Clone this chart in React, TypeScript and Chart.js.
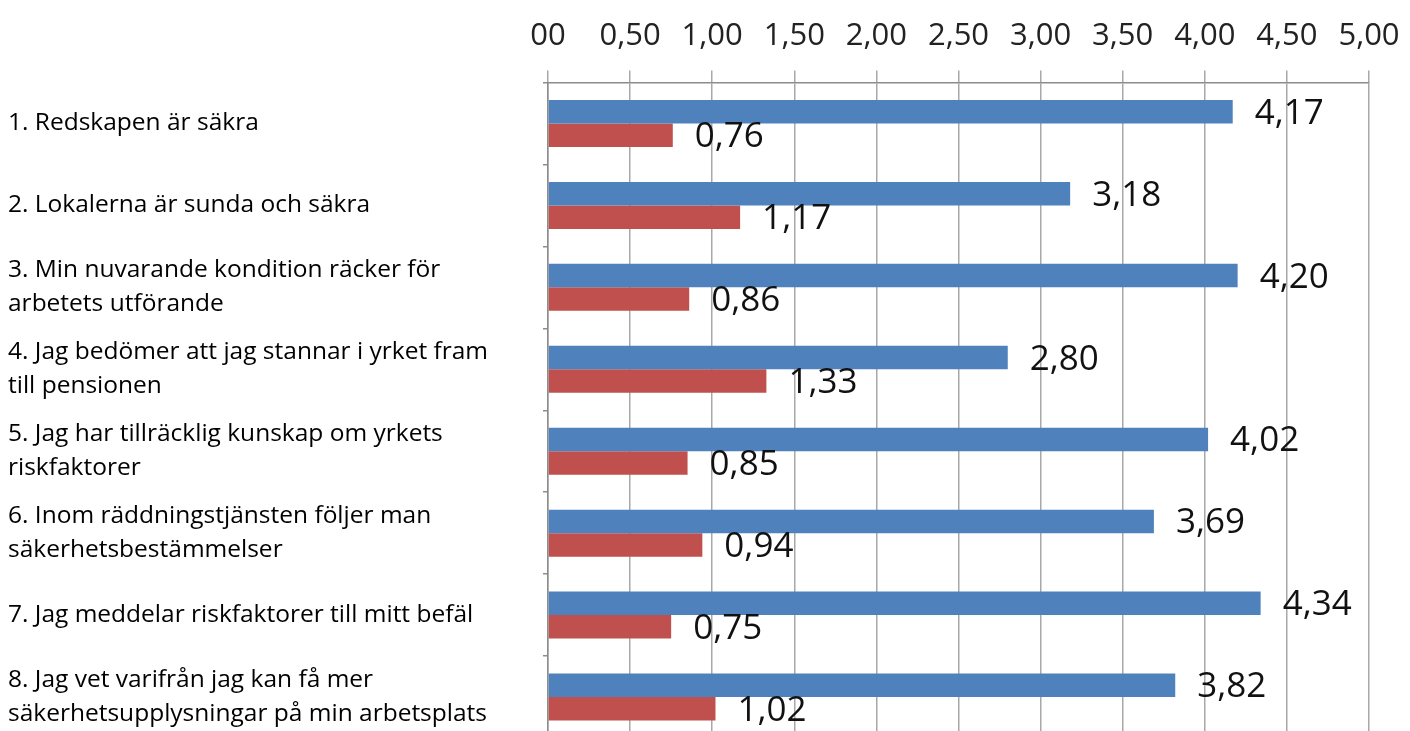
import React, { useEffect, useRef } from "react";
import { Chart, registerables } from "chart.js";

Chart.register(...registerables);

const categories: string[][] = [
  ["1. Redskapen är säkra"],
  ["2. Lokalerna är sunda och säkra"],
  ["3. Min nuvarande kondition räcker för", "arbetets utförande"],
  ["4. Jag bedömer att jag stannar i yrket fram", "till pensionen"],
  ["5. Jag har tillräcklig kunskap om yrkets", "riskfaktorer"],
  ["6. Inom räddningstjänsten följer man", "säkerhetsbestämmelser"],
  ["7. Jag meddelar riskfaktorer till mitt befäl"],
  ["8. Jag vet varifrån jag kan få mer", "säkerhetsupplysningar på min arbetsplats"],
];

const seriesBlue: number[] = [4.17, 3.18, 4.2, 2.8, 4.02, 3.69, 4.34, 3.82];
const seriesRed: number[] = [0.76, 1.17, 0.86, 1.33, 0.85, 0.94, 0.75, 1.02];

const xTickLabels: string[] = [
  "00", "0,50", "1,00", "1,50", "2,00", "2,50", "3,00", "3,50", "4,00", "4,50", "5,00",
];

const FONT = '"Open Sans", "Noto Sans", sans-serif';

const fmt = (v: number) => v.toFixed(2).replace(".", ",");

const valueLabels = {
  id: "valueLabels",
  afterDatasetsDraw(chart: any) {
    const ctx = chart.ctx;
    ctx.save();
    ctx.font = `35px ${FONT}`;
    ctx.fillStyle = "#111";
    ctx.textAlign = "left";
    ctx.textBaseline = "middle";
    chart.data.datasets.forEach((ds: any, i: number) => {
      const meta = chart.getDatasetMeta(i);
      meta.data.forEach((bar: any, j: number) => {
        ctx.fillText(fmt(ds.data[j]), bar.x + 22, bar.y + 2);
      });
    });
    ctx.restore();
  },
};

export default function App() {
  const ref = useRef<HTMLCanvasElement | null>(null);

  useEffect(() => {
    if (!ref.current) return;
    const chart = new Chart(ref.current, {
      type: "bar",
      data: {
        labels: categories,
        datasets: [
          {
            label: "A",
            data: seriesBlue,
            backgroundColor: "#4f81bd",
            categoryPercentage: 0.573,
            barPercentage: 1,
          },
          {
            label: "B",
            data: seriesRed,
            backgroundColor: "#c0504d",
            categoryPercentage: 0.573,
            barPercentage: 1,
          },
        ],
      },
      options: {
        indexAxis: "y",
        responsive: false,
        animation: false,
        layout: { padding: { left: 8, right: 41, top: 0, bottom: 7 } },
        plugins: {
          legend: { display: false },
          tooltip: { enabled: false },
        },
        scales: {
          x: {
            position: "top",
            min: 0,
            max: 5,
            afterFit: (scale: any) => {
              scale.height = 82.5;
              scale.paddingLeft = 0;
              scale.paddingRight = 0;
            },
            ticks: {
              stepSize: 0.5,
              padding: 16,
              color: "#222",
              font: { family: FONT, size: 31, lineHeight: 1.2 },
              maxRotation: 0,
              autoSkip: false,
              callback: (_v: any, i: number) => xTickLabels[i],
            },
            grid: {
              color: "#a8a8a8",
              lineWidth: 1.5,
              tickLength: 12,
            },
            border: { display: true, color: "#8c8c8c", width: 1.5 },
          },
          y: {
            position: "left",
            afterFit: (scale: any) => {
              scale.width = 540;
              scale.paddingTop = 0;
              scale.paddingBottom = 0;
            },
            ticks: {
              crossAlign: "far",
              color: "#000",
              font: { family: FONT, size: 24.5, lineHeight: 1.4 },
              autoSkip: false,
            },
            grid: {
              drawOnChartArea: false,
              offset: true,
              tickLength: 5,
              color: "#8c8c8c",
              lineWidth: 1.5,
            },
            border: { display: true, color: "#8c8c8c", width: 1.5 },
          },
        },
      },
      plugins: [valueLabels],
    });
    return () => chart.destroy();
  }, []);

  return (
    <div
      style={{
        position: "absolute",
        left: 0,
        top: 0,
        width: 1410,
        height: 731,
        overflow: "hidden",
        background: "#fff",
      }}
    >
      <canvas ref={ref} width={1410} height={745} style={{ display: "block" }} />
    </div>
  );
}
